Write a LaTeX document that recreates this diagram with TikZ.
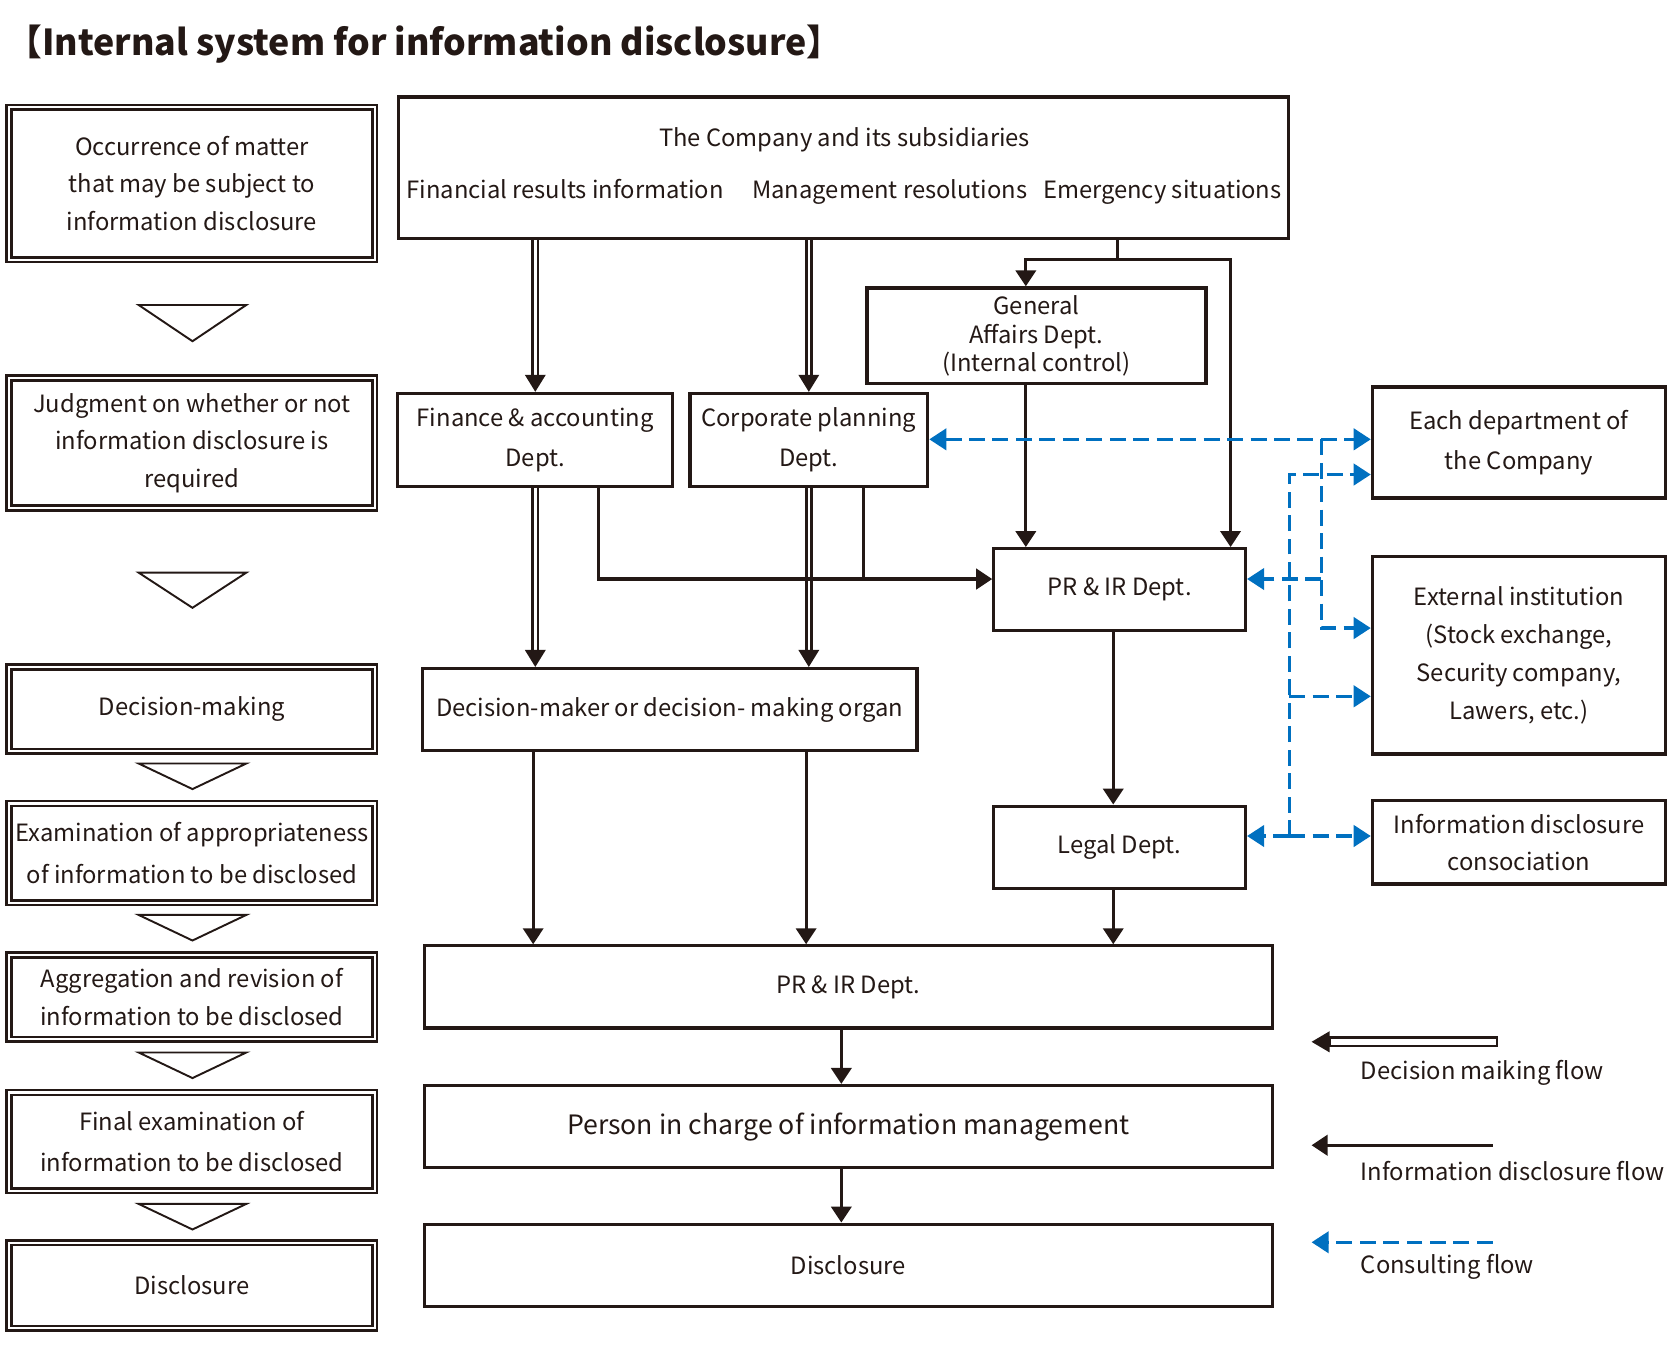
\documentclass[tikz,border=0pt]{standalone}
\usepackage{fontspec}
\setmainfont{Noto Sans CJK JP}
\usetikzlibrary{arrows.meta}

\definecolor{ink}{HTML}{231815}
\definecolor{consult}{HTML}{0070C0}

\tikzset{
  box/.style={draw=ink, line width=3pt, inner sep=0pt, align=center, text=ink,
    font=\fontsize{22.3}{37}\selectfont},
  stage/.style={draw=ink, line width=2.4pt, double=white, double distance=2pt,
    inner sep=0pt, align=center, text=ink, minimum width=343,
    font=\fontsize{22.3}{35}\selectfont},
  label/.style={inner sep=0pt, text=ink, font=\fontsize{22.3}{35}\selectfont},
  chev/.style={draw=ink, line width=1.8pt, line join=miter},
  link/.style={draw=ink, line width=3pt},
  flow/.style={link, -{Triangle[length=15pt,width=19pt]}},
  dflow/.style={draw=ink, line width=2.5pt, double=white, double distance=2.4pt,
    -{Triangle[length=16pt,width=19pt]}},
  cline/.style={draw=consult, line width=3pt, dash pattern=on 15pt off 7pt},
  cflow/.style={cline, -{Triangle[length=16pt,width=20pt]}},
}

\begin{document}
\begin{tikzpicture}[x=1pt,y=-1pt]
  \useasboundingbox (0,0) rectangle (1568,1261);

  % title
  \node[label, anchor=west, font=\fontsize{33.5}{40}\bfseries] (title) at (6,41)
    {【Internal system for information disclosure】};

  % left column: stages
  \node[stage, minimum height=143] (s1) at (180,172)
    {Occurrence of matter\\that may be subject to\\information disclosure};
  \node[stage, minimum height=122] (s2) at (180,415.5)
    {Judgment on whether or not\\information disclosure is\\required};
  \node[stage, minimum height=79] (s3) at (180,665) {Decision-making};
  \node[stage, minimum height=93, font=\fontsize{22.3}{39}\selectfont] (s4) at (180,800)
    {Examination of appropriateness\\of information to be disclosed};
  \node[stage, minimum height=79] (s5) at (180,935)
    {Aggregation and revision of\\information to be disclosed};
  \node[stage, minimum height=92, font=\fontsize{22.3}{39}\selectfont] (s6) at (180,1070.5)
    {Final examination of\\information to be disclosed};
  \node[stage, minimum height=80] (s7) at (180,1205.5) {Disclosure};

  \foreach \t/\b in {286/320, 537/570, 716/740, 858/882, 987/1011, 1129/1153}
    \draw[chev] (130,\t) -- (231,\t) -- (180.5,\b) -- cycle;

  % organisation
  \node[box, minimum width=834, minimum height=133] (company) at (791,157.5) {};
  \node[label] (cotitle) at (792,131) {The Company and its subsidiaries};
  \node[label, anchor=base] (cofin) at (530,186) {Financial results information};
  \node[label, anchor=base] (comgmt) at (834.5,186) {Management resolutions};
  \node[label, anchor=base] (coemg) at (1090,186) {Emergency situations};

  \node[box, minimum width=318, minimum height=90, font=\fontsize{22.3}{26.5}\selectfont]
    (genaff) at (972,315) {General\\Affairs Dept.\\(Internal control)};
  \node[box, minimum width=258, minimum height=87] (fin) at (502,412.5)
    {Finance \& accounting\\Dept.};
  \node[box, minimum width=223, minimum height=87] (corp) at (758.5,412.5)
    {Corporate planning\\Dept.};
  \node[box, minimum width=275, minimum height=104] (eachdept) at (1424.5,415)
    {Each department of\\the Company};
  \node[box, minimum width=236, minimum height=77] (prir) at (1050,553)
    {PR \& IR Dept.};
  \node[box, minimum width=275, minimum height=185, font=\fontsize{22.3}{35.5}\selectfont]
    (extinst) at (1424.5,614.5)
    {External institution\\(Stock exchange,\\Security company,\\Lawers, etc.)};
  \node[box, minimum width=464, minimum height=77] (dm) at (628,665.5)
    {Decision-maker or decision- making organ};
  \node[box, minimum width=236, minimum height=77] (legal) at (1050,794.5)
    {Legal Dept.};
  \node[box, minimum width=275, minimum height=78, font=\fontsize{22.3}{34}\selectfont]
    (idc) at (1424.5,790) {Information disclosure\\consociation};
  \node[box, minimum width=795, minimum height=77] (prir2) at (795.5,925.5)
    {PR \& IR Dept.};
  \node[box, minimum width=795, minimum height=77, font=\fontsize{25}{30}\selectfont]
    (pic) at (795.5,1056.5) {Person in charge of information management};
  \node[box, minimum width=795, minimum height=77] (disc) at (795.5,1186.5)
    {Disclosure};

  % decision making flow
  \draw[dflow] (company.south -| fin.north) -- (fin.north);
  \draw[dflow] (company.south -| corp.north) -- (corp.north);
  \draw[dflow] (fin.south) -- (dm.north -| fin.south);
  \draw[dflow] (corp.south) -- (dm.north -| corp.south);

  % information disclosure flow
  \coordinate (split) at (1048,243);
  \coordinate (lcol) at (962,243);
  \coordinate (rcol) at (1154,243);
  \draw[flow] (company.south -| split) -- (split) -- (lcol) -- (lcol |- genaff.north);
  \draw[flow] (split) -- (rcol) -- (rcol |- prir.north);
  \draw[flow] (genaff.south -| lcol) -- (prir.north -| lcol);
  \coordinate (fjoin) at (561,543);
  \coordinate (cjoin) at (810,543);
  \draw[flow] (fin.south -| fjoin) -- (fjoin) -- (fjoin -| prir.west);
  \draw[link] (corp.south -| cjoin) -- (cjoin);
  \coordinate (lgcol) at (1044,0);
  \draw[flow] (prir.south -| lgcol) -- (legal.north -| lgcol);
  \draw[flow] (legal.south -| lgcol) -- (prir2.north -| lgcol);
  \coordinate (dmcol1) at (500,0);
  \coordinate (dmcol2) at (756,0);
  \draw[flow] (dm.south -| dmcol1) -- (prir2.north -| dmcol1);
  \draw[flow] (dm.south -| dmcol2) -- (prir2.north -| dmcol2);
  \coordinate (ccol) at (789,0);
  \draw[flow] (prir2.south -| ccol) -- (pic.north -| ccol);
  \draw[flow] (pic.south -| ccol) -- (disc.north -| ccol);

  % consulting flow
  \coordinate (v1top) at (1239,412);
  \coordinate (v1mid) at (1239,543);
  \coordinate (v1bot) at (1239,589);
  \coordinate (v2top) at (1209,445);
  \coordinate (v2mid) at (1209,653);
  \coordinate (v2bot) at (1209,784);
  \draw[cflow, {Triangle[length=16pt,width=20pt]}-{Triangle[length=16pt,width=20pt]}]
    (corp.east |- v1top) -- (eachdept.west |- v1top);
  \draw[cflow] (v1top) -- (v1bot) -- (v1bot -| extinst.west);
  \draw[cflow] (v1mid) -- (v1mid -| prir.east);
  \draw[cflow] (v2bot) -- (v2top) -- (v2top -| eachdept.west);
  \draw[cflow] (v2mid) -- (v2mid -| extinst.west);
  \draw[cflow] (v2bot) -- (v2bot -| legal.east);
  \draw[cflow] (v2bot) -- (v2bot -| idc.west);

  % legend
  \coordinate (lga) at (1404,977);
  \coordinate (lgb) at (1230,977);
  \fill[ink] (lgb) -- ++(17,-10) -- ++(0,20) -- cycle;
  \draw[ink, line width=2pt, fill=white] (1247,973) rectangle (lga |- 0,981);
  \node[label, anchor=west] (lgtext1) at (1276,1006) {Decision maiking flow};
  \coordinate (lgc) at (1400,1074);
  \coordinate (lgd) at (1230,1074);
  \draw[flow] (lgc) -- (lgd);
  \node[label, anchor=west] (lgtext2) at (1276,1098) {Information disclosure flow};
  \coordinate (lge) at (1400,1165);
  \coordinate (lgf) at (1230,1165);
  \draw[cflow] (lge) -- (lgf);
  \node[label, anchor=west] (lgtext3) at (1276,1188) {Consulting flow};
\end{tikzpicture}
\end{document}
